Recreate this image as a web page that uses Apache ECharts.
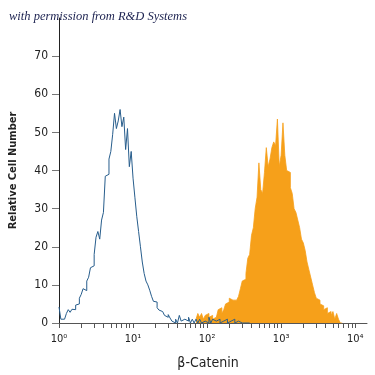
<!DOCTYPE html>
<html><head><meta charset="utf-8">
<script src="https://cdn.jsdelivr.net/npm/echarts@6/dist/echarts.min.js"></script>
<style>html,body{margin:0;padding:0;background:#fff}#c{width:375px;height:375px}</style>
</head><body><div id="c"></div>
<script>
// Histogram data (x in log10 units, bin width 0.025 decade)
const binWidth = 0.025;
const blueStartLog = 0;
const blueCounts = [4.2,1,1,1,2.5,3.5,2.8,3.6,3.5,4.7,5,6.5,7.5,9,8.5,11,12,14.5,15,18,22.5,24,22,27,29,38.5,39,43,45,49.5,55,51,53,56,51.5,54,45.5,51,41,45,38,33,28,24,20,16,13,11,10,8.6,7,5.7,5.5,4,3.4,3,2.5,2,1.5,2.2,1.3,0.5,0,1,0,2,0.5,1,1.5,0.5,1.5,0,1,0,1,0,1,0,0.5,1,0,1.5,0,1,0.5,0,1,0,0.5,0,1,0,0.5,0,1,0,0.5,0,0,0,0,0,0];
const orangeStartLog = 1.85;
const orangeCounts = [1,2.5,1.5,2.5,1,2,2.5,1.5,2,1,1.5,1,3.5,4,2.5,3.5,5,5.5,6.5,6,6.5,6,6.5,7,9,11,11.5,13,17,18,23,25,30,33,42,35,34,39.5,46,41,43,46,47.5,46.5,53.5,41,44,52.5,44,40,39.5,35.5,34,30,29,27,25,22,21,19,16,14,12,10,8,6.5,6,5,4.5,3.5,4,2.5,3,2,3,1,2.5,1,0];
const xTickLabels = ['10\u2070','10\u00b9','10\u00b2','10\u00b3','10\u2074'];
const xTickDecades = [0,1,2,3,4];
const minorMultipliers = [2,3,4,5,6,7,8,9];
const yTicks = [0,10,20,30,40,50,60,70];

function toSeries(start, counts){
  const pts = counts.map((v,i)=>[start + i*binWidth, v]);
  pts.push([start + counts.length*binWidth, 0]);
  return pts;
}
const tickPositions = [];
xTickDecades.forEach(d=>{
  tickPositions.push(d);
  if (d < 4) minorMultipliers.forEach(m=>tickPositions.push(d + Math.log10(m)));
});

const font = "'DejaVu Sans Condensed',sans-serif";
const chart = echarts.init(document.getElementById('c'), null, {renderer:'canvas'});
chart.setOption({
  animation:false,
  title:{text:'with permission from R&D Systems', left:4, top:5,
    textStyle:{fontFamily:"'Liberation Serif','DejaVu Serif',serif", fontStyle:'italic', fontWeight:'normal', fontSize:12.5, color:'#1c2250'}},
  grid:{left:54, right:8, top:18, bottom:50},
  xAxis:{type:'value', min:0, max:4.16, interval:1,
    name:'\u03b2-Catenin', nameLocation:'middle', nameGap:33,
    nameTextStyle:{fontFamily:font, fontSize:14, color:'#222', padding:[0,10,0,0]},
    axisLine:{lineStyle:{color:'#555', width:1}},
    axisTick:{show:true, inside:false, length:5, customValues:tickPositions, lineStyle:{color:'#555'}},
    axisLabel:{customValues:xTickDecades, margin:11, fontFamily:font, fontSize:11, color:'#222',
      formatter:v=>xTickLabels[Math.round(v)]},
    splitLine:{show:false}},
  yAxis:{type:'value', min:0, max:80, interval:10,
    name:'Relative Cell Number', nameLocation:'middle', nameGap:40,
    nameTextStyle:{fontFamily:font, fontSize:11, fontWeight:'bold', color:'#222'},
    axisLine:{show:true, lineStyle:{color:'#222', width:1}},
    axisTick:{show:true, length:7, customValues:yTicks, lineStyle:{color:'#777'}},
    axisLabel:{customValues:yTicks, margin:11, fontFamily:font, fontSize:12, color:'#222'},
    splitLine:{show:false}},
  series:[
    {type:'line', step:'end', data:toSeries(orangeStartLog, orangeCounts), symbol:'none',
      lineStyle:{color:'#F6A01A', width:0.8}, areaStyle:{color:'#F6A01A', opacity:1}, z:2},
    {type:'line', step:'end', data:toSeries(blueStartLog, blueCounts), symbol:'none',
      lineStyle:{color:'#275d8c', width:1}, z:3}
  ]
});
</script></body></html>
